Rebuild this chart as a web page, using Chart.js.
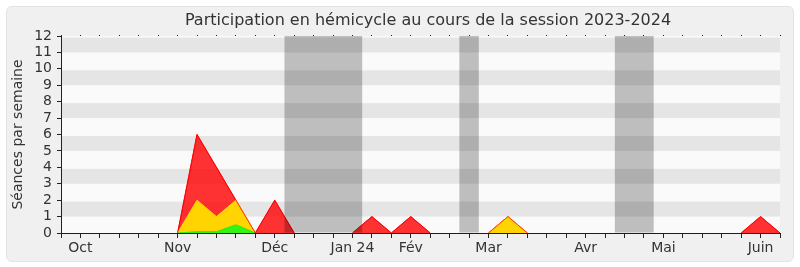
<!DOCTYPE html>
<html><head><meta charset="utf-8">
<script src="https://cdn.jsdelivr.net/npm/chart.js@4/dist/chart.umd.min.js"></script>
<style>
html,body{margin:0;padding:0;background:#fff;}
#wrap{position:relative;width:800px;height:267px;}
#panel{position:absolute;left:6px;top:6px;width:786px;height:254px;background:#f0f0f0;border:1px solid #e2e2e2;border-radius:6px;}
canvas{position:absolute;left:0;top:0;}
</style></head><body>
<div id="wrap"><div id="panel"></div><canvas id="c" width="800" height="267"></canvas></div>
<script>
// One category per week of the session (38 weeks)
const weekLabels = ['', 'Oct', '', '', '', '', 'Nov', '', '', '', '', 'Déc', '', '', '', 'Jan 24', '', '', 'Fév', '', '', '', 'Mar', '', '', '', '', 'Avr', '', '', '', 'Mai', '', '', '', '', 'Juin', ''];
const redValues    = [0,0,0,0,0,0,0,6,4,2,0,2,0,0,0,0,1,0,1,0,0,0,0,1,0,0,0,0,0,0,0,0,0,0,0,0,1,0];
const yellowValues = [0,0,0,0,0,0,0,2,1,2,0,0,0,0,0,0,0,0,0,0,0,0,0,1,0,0,0,0,0,0,0,0,0,0,0,0,0,0];
const greenValues  = [0,0,0,0,0,0,0,0.08,0.08,0.5,0,0,0,0,0,0,0,0,0,0,0,0,0,0,0,0,0,0,0,0,0,0,0,0,0,0,0,0];
// Vacation periods, in week-index units
const vacStart = [11.5, 20.5, 28.5];
const vacEnd   = [15.5, 21.5, 30.5];
const yTicksMax = 12;

const FONT = 'DejaVu Sans';

const hideZero = {borderColor: c => (c.p0.parsed.y === 0 && c.p1.parsed.y === 0) ? 'rgba(0,0,0,0)' : undefined};

const bandsPlugin = {
  id: 'bands',
  afterLayout(chart) {
    if (chart.titleBlock) { chart.titleBlock.left = 76; }
  },
  beforeDraw(chart) {
    const {ctx, chartArea: a, scales} = chart;
    const y = scales.y;
    ctx.save();
    ctx.fillStyle = '#fafafa';
    ctx.fillRect(a.left, a.top, a.right - a.left, a.bottom - a.top);
    ctx.fillStyle = '#e5e5e5';
    for (let k = 1; k < yTicksMax; k += 2) {
      const y1 = y.getPixelForValue(k + 1), y0 = y.getPixelForValue(k);
      ctx.fillRect(a.left, y1 + 1.5, a.right - a.left, y0 - y1 - 1.5);
    }
    ctx.restore();
  },
  afterDatasetsDraw(chart) {
    const {ctx, chartArea: a, scales} = chart;
    const x = scales.x;
    ctx.save();
    ctx.fillStyle = 'rgba(0,0,0,0.24)';
    for (let i = 0; i < vacStart.length; i++) {
      const x0 = x.getPixelForValue(vacStart[i]), x1 = x.getPixelForValue(vacEnd[i]);
      ctx.fillRect(x0, a.top, x1 - x0, a.bottom - a.top - 0.5);
    }
    ctx.restore();
  }
};

new Chart(document.getElementById('c'), {
  type: 'line',
  data: {
    labels: weekLabels,
    datasets: [
      {data: redValues, borderColor: 'rgba(255,0,0,0.7)', fill: false, borderWidth: 1, pointRadius: 0, tension: 0, segment: hideZero},
      {data: greenValues, borderColor: 'rgb(40,235,20)', backgroundColor: 'rgb(50,245,20)', fill: 'origin', borderWidth: 1, pointRadius: 0, tension: 0, segment: hideZero},
      {data: yellowValues, borderColor: 'rgb(255,215,0)', backgroundColor: 'rgb(255,212,0)', fill: 'origin', borderWidth: 1, pointRadius: 0, tension: 0, segment: hideZero},
      {data: redValues, borderColor: 'rgb(255,0,0)', backgroundColor: 'rgba(255,0,0,0.8)', fill: 'origin', borderWidth: 1, pointRadius: 0, tension: 0, segment: hideZero}
    ]
  },
  options: {
    responsive: false,
    animation: false,
    devicePixelRatio: 1,
    layout: {padding: {left: 0, right: 20, top: 0, bottom: 0}},
    plugins: {
      legend: {display: false},
      tooltip: {enabled: false},
      title: {display: true, text: 'Participation en hémicycle au cours de la session 2023-2024', color: '#333',
        font: {family: FONT, size: 16, weight: 'normal', lineHeight: 1.2}, padding: {top: 11, bottom: 4.8}}
    },
    scales: {
      x2: {type: 'category', labels: weekLabels, position: 'top',
        grid: {drawOnChartArea: false, drawTicks: true, tickLength: 1, color: '#222'},
        border: {display: false}, ticks: {display: false},
        afterFit(s) { s.height = 1; }},
      x: {type: 'category', position: 'bottom', z: 1,
        grid: {drawOnChartArea: false, drawTicks: true, tickLength: 5, color: '#222'},
        border: {display: true, color: '#3a1010'},
        ticks: {autoSkip: false, maxRotation: 0, minRotation: 0, padding: 2, color: '#333', font: {family: FONT, size: 14}},
        afterFit(s) { s.height = 34; }},
      y: {min: 0, max: yTicksMax,
        grid: {drawOnChartArea: false, drawTicks: true, tickLength: 4, color: '#222'},
        border: {display: true, color: '#222'},
        ticks: {stepSize: 1, autoSkip: false, padding: 5, color: '#333', font: {family: FONT, size: 14}},
        title: {display: true, text: 'Séances par semaine', color: '#333', font: {family: FONT, size: 14}, padding: {top: 10, bottom: 0}},
        afterFit(s) { s.width = 61; }}
    }
  },
  plugins: [bandsPlugin]
});
</script>
</body></html>
